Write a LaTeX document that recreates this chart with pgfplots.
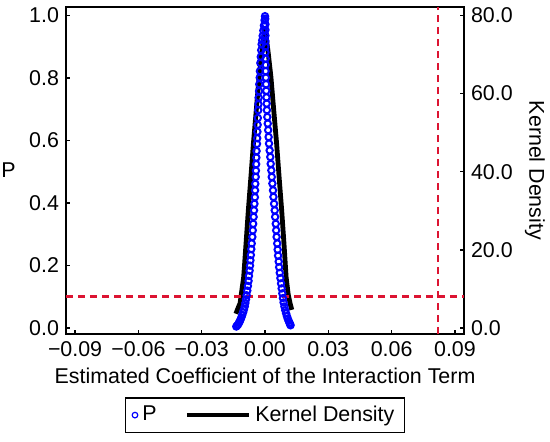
\documentclass[border=0pt]{standalone}
\usepackage{fontspec}
\setmainfont{Liberation Sans}
\usepackage{pgfplots}
\pgfplotsset{compat=1.18}
\definecolor{dred}{RGB}{220,20,50}
\newcommand{\fs}{\fontsize{10.7}{12.8}\selectfont}

\pgfplotstableread{
x d
-0.0138 3.6
-0.0128 5.0
-0.0118 6.3
-0.0110 9.5
-0.0101 13.0
-0.0090 21.5
-0.0079 30.1
-0.0067 38.5
-0.0055 47.2
-0.0041 56.0
-0.0028 64.3
-0.0014 71.0
0.0000 76.7
0.0014 71.0
0.0028 64.3
0.0041 56.0
0.0055 47.2
0.0067 38.5
0.0079 30.1
0.0090 21.5
0.0100 13.0
0.0110 8.5
0.0120 6.0
0.0127 4.6
}\kdens

\pgfplotstableread{
x p
0.0000 0.998
-0.0002 0.985
-0.0005 0.968
-0.0008 0.952
-0.0011 0.935
-0.0013 0.921
-0.0016 0.908
-0.0018 0.889
-0.0020 0.868
-0.0022 0.848
-0.0024 0.822
-0.0025 0.801
-0.0027 0.780
-0.0028 0.758
-0.0030 0.737
-0.0031 0.716
-0.0032 0.697
-0.0034 0.672
-0.0035 0.650
-0.0036 0.628
-0.0037 0.607
-0.0038 0.589
-0.0040 0.566
-0.0041 0.545
-0.0042 0.524
-0.0043 0.503
-0.0044 0.483
-0.0046 0.461
-0.0047 0.440
-0.0048 0.418
-0.0050 0.397
-0.0052 0.376
-0.0054 0.355
-0.0056 0.333
-0.0058 0.312
-0.0060 0.291
-0.0063 0.270
-0.0065 0.252
-0.0067 0.233
-0.0069 0.216
-0.0071 0.199
-0.0073 0.183
-0.0076 0.166
-0.0078 0.150
-0.0081 0.134
-0.0084 0.119
-0.0087 0.104
-0.0090 0.091
-0.0093 0.079
-0.0096 0.068
-0.0100 0.058
-0.0104 0.049
-0.0108 0.041
-0.0112 0.033
-0.0116 0.026
-0.0120 0.020
-0.0124 0.015
-0.0128 0.010
-0.0132 0.007
-0.0136 0.004
0.0001 0.990
0.0002 0.972
0.0002 0.954
0.0002 0.936
0.0002 0.918
0.0002 0.900
0.0002 0.882
0.0003 0.862
0.0003 0.842
0.0003 0.822
0.0004 0.801
0.0005 0.780
0.0006 0.759
0.0007 0.738
0.0008 0.718
0.0009 0.697
0.0011 0.675
0.0013 0.654
0.0015 0.633
0.0017 0.611
0.0019 0.590
0.0022 0.568
0.0025 0.547
0.0027 0.525
0.0030 0.504
0.0032 0.483
0.0035 0.462
0.0038 0.440
0.0040 0.419
0.0043 0.397
0.0046 0.376
0.0048 0.355
0.0051 0.333
0.0053 0.312
0.0055 0.291
0.0058 0.270
0.0060 0.250
0.0062 0.231
0.0065 0.212
0.0067 0.194
0.0070 0.176
0.0073 0.159
0.0076 0.142
0.0079 0.126
0.0082 0.110
0.0085 0.095
0.0088 0.081
0.0092 0.068
0.0096 0.056
0.0100 0.046
0.0104 0.037
0.0108 0.029
0.0112 0.022
0.0116 0.016
0.0119 0.011
0.0121 0.008
}\pdata

\begin{document}
\begin{tikzpicture}
\path[use as bounding box] (-33pt,-53.5pt) rectangle (242pt,167pt);
\begin{axis}[
  scale only axis, width=199pt, height=163.6pt,
  xmin=-0.0943, xmax=0.0943, ymin=-1.6, ymax=82.24,
  scaled x ticks=false, scaled y ticks=false,
  axis x line=none, axis y line*=right,
  ytick={0,20,40,60,80}, yticklabels={0.0,20.0,40.0,60.0,80.0},
  tick align=inside, major tick length=2pt,
  axis line style={line width=1pt, black}, tick style={line width=0.8pt, black},
  ticklabel style={font=\fs},
  ylabel={Kernel Density},
  every axis y label/.style={at={(axis description cs:1.178,0.5)}, rotate=-90, anchor=center, font=\fs},
]
\addplot[black, line width=2.4pt, line join=round] table[x=x,y=d] {\kdens};
\end{axis}
\begin{axis}[
  scale only axis, width=199pt, height=163.6pt,
  xmin=-0.0943, xmax=0.0943, ymin=-0.02, ymax=1.028,
  scaled x ticks=false, scaled y ticks=false,
  xtick={-0.09,-0.06,-0.03,0,0.03,0.06,0.09},
  xticklabels={−0.09,−0.06,−0.03,0.00,0.03,0.06,0.09},
  ytick={0,0.2,0.4,0.6,0.8,1.0},
  yticklabels={0.0,0.2,0.4,0.6,0.8,1.0},
  xtick pos=bottom, ytick pos=left,
  tick align=inside, major tick length=2pt,
  axis line style={line width=1pt, black}, tick style={line width=0.8pt, black},
  ticklabel style={font=\fs},
  xlabel={Estimated Coefficient of the Interaction Term},
  ylabel={P},
  every axis x label/.style={at={(axis description cs:0.5,-0.1507)}, anchor=base, font=\fs},
  every axis y label/.style={at={(axis description cs:-0.1445,0.5)}, anchor=center, font=\fs},
  legend style={at={(0.5,-0.193)}, anchor=north, legend columns=2, draw=black,
    line width=0.7pt, font=\fs, inner xsep=3pt, inner ysep=2pt,
    /tikz/every even column/.append style={column sep=12pt}},
  legend cell align=left,
]
\addplot[dred, line width=1.1pt, dash pattern=on 3.5pt off 2.5pt, forget plot] coordinates {(-0.0943,0.1) (0.0943,0.1)};
\addplot[dred, line width=1.1pt, dash pattern=on 3.5pt off 2.5pt, forget plot] coordinates {(0.082,-0.02) (0.082,1.028)};
\addplot[only marks, mark=o, mark size=1.6pt, blue, mark options={line width=1pt},
  legend image code/.code={\draw[blue, line width=0.6pt] (0.1cm,0cm) circle (1.4pt);}] table[x=x,y=p] {\pdata};
\addlegendentry{P}
\addlegendimage{black, line width=2.3pt, legend image code/.code={\draw[black, line width=2.3pt] (0pt,0pt) -- (31pt,0pt);}}
\addlegendentry{Kernel Density}
\end{axis}
\end{tikzpicture}
\end{document}
